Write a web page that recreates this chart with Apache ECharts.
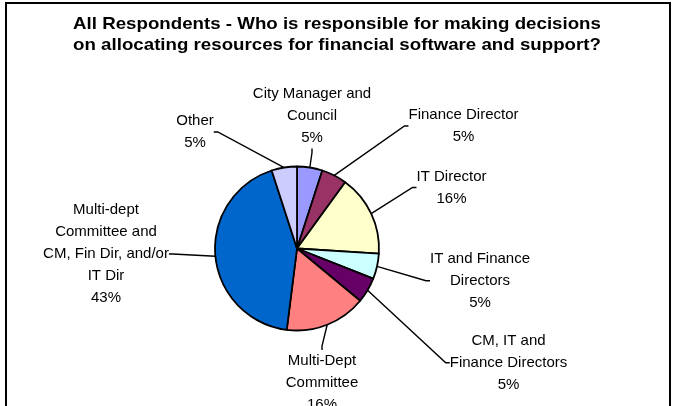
<!DOCTYPE html>
<html>
<head>
<meta charset="utf-8">
<script src="https://cdn.jsdelivr.net/npm/echarts@6/dist/echarts.min.js"></script>
<style>
  html, body { margin: 0; padding: 0; background: #fff; }
  #chart { width: 679px; height: 406px; }
</style>
</head>
<body>
<div id="chart"></div>
<script>
// Respondent groups, clockwise from 12 o'clock, with their share in percent
const categories = [
  'City Manager and\nCouncil',
  'Finance Director',
  'IT Director',
  'IT and Finance\nDirectors',
  'CM, IT and\nFinance Directors',
  'Multi-Dept\nCommittee',
  'Multi-dept\nCommittee and\nCM, Fin Dir, and/or\nIT Dir',
  'Other'
];
const shares = [5, 5, 16, 5, 5, 16, 43, 5];
const sliceColors = ['#9999FF', '#993366', '#FFFFCC', '#CCFFFF', '#660066', '#FF8080', '#0066CC', '#CCCCFF'];
const titleText = 'All Respondents - Who is responsible for making decisions\non allocating resources for financial software and support?';

// Where each label block sits (centre of the text block, in pixels)
const labelSpots = [
  [312, 115.5], [463.5, 126], [451.5, 187.5], [480, 280.7],
  [508.5, 362.7], [322, 383], [106, 254], [195, 132]
];

const chart = echarts.init(document.getElementById('chart'), null, { renderer: 'canvas' });

chart.setOption({
  backgroundColor: '#fff',
  animation: false,
  graphic: [{
    // outer frame of the chart area
    type: 'rect',
    shape: { x: 6, y: 3, width: 664, height: 430 },
    style: { fill: 'none', stroke: '#000', lineWidth: 2 },
    silent: true
  }, {
    // two-line bold heading, slightly widened
    type: 'text',
    x: 337,
    y: 34.5,
    scaleX: 1.1,
    style: {
      text: titleText,
      align: 'center',
      verticalAlign: 'middle',
      font: 'bold 17px "Liberation Sans", Arial, sans-serif',
      lineHeight: 21,
      fill: '#000'
    },
    silent: true
  }],
  series: [{
    type: 'pie',
    center: [297, 248.5],
    radius: [0, 82],
    startAngle: 90,
    clockwise: true,
    avoidLabelOverlap: false,
    itemStyle: { borderColor: '#000', borderWidth: 1.8 },
    label: {
      show: true,
      position: 'outside',
      formatter: '{b}\n{c}%',
      fontFamily: 'Liberation Sans, Arial, sans-serif',
      fontSize: 15,
      lineHeight: 22,
      color: '#000',
      align: 'center'
    },
    labelLine: {
      show: true,
      length: 12,
      length2: 4,
      smooth: false,
      lineStyle: { color: '#000', width: 1.4 }
    },
    labelLayout: function (params) {
      const p = labelSpots[params.dataIndex];
      return { x: p[0], y: p[1], align: 'center', verticalAlign: 'middle' };
    },
    data: categories.map((name, i) => ({
      name: name,
      value: shares[i],
      itemStyle: { color: sliceColors[i] }
    }))
  }]
});
</script>
</body>
</html>
